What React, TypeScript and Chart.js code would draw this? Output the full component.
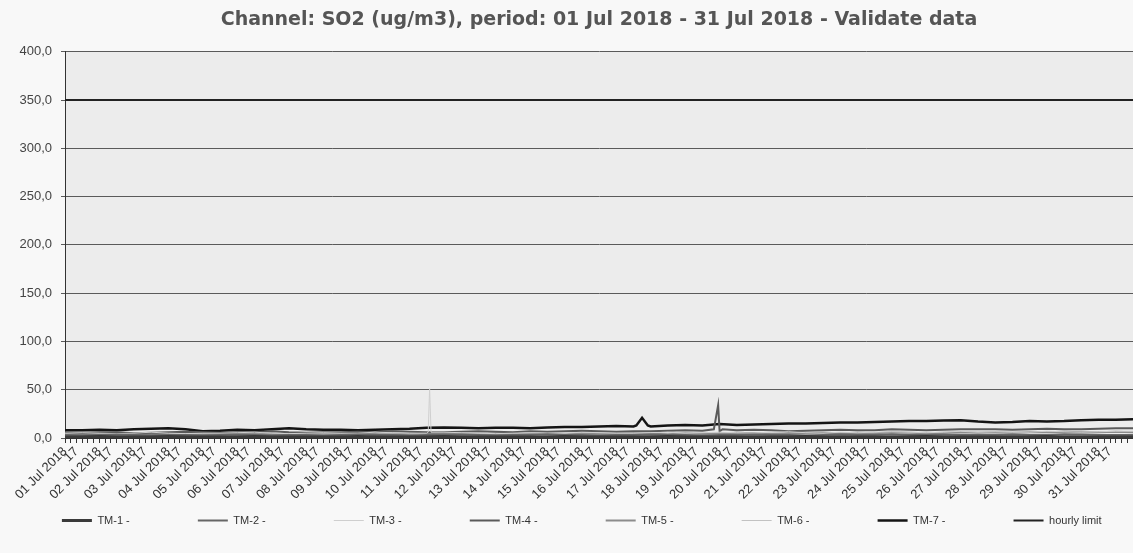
import React, { useEffect, useRef } from 'react';
import { Chart, registerables } from 'chart.js';

Chart.register(...registerables);

const TITLE = 'Channel: SO2 (ug/m3), period: 01 Jul 2018 - 31 Jul 2018 - Validate data';

const dayLabels = [
  '01 Jul 2018', '02 Jul 2018', '03 Jul 2018', '04 Jul 2018', '05 Jul 2018', '06 Jul 2018',
  '07 Jul 2018', '08 Jul 2018', '09 Jul 2018', '10 Jul 2018', '11 Jul 2018', '12 Jul 2018',
  '13 Jul 2018', '14 Jul 2018', '15 Jul 2018', '16 Jul 2018', '17 Jul 2018', '18 Jul 2018',
  '19 Jul 2018', '20 Jul 2018', '21 Jul 2018', '22 Jul 2018', '23 Jul 2018', '24 Jul 2018',
  '25 Jul 2018', '26 Jul 2018', '27 Jul 2018', '28 Jul 2018', '29 Jul 2018', '30 Jul 2018',
  '31 Jul 2018',
];
const hourLabel = '17';

// sample hours (every 12 h over the month)
const hours = [
  0, 12, 24, 36, 48, 60, 72, 84, 96,
  108, 120, 132, 144, 156, 168, 180, 192, 204,
  216, 228, 240, 252, 264, 276, 288, 300, 312,
  324, 336, 348, 360, 372, 384, 396, 408, 420,
  432, 444, 456, 468, 480, 492, 504, 516, 528,
  540, 552, 564, 576, 588, 600, 612, 624, 636,
  648, 660, 672, 684, 696, 708, 720, 732, 744,
];

const tm1 = [
  1, 1, 1.5, 1, 1, 1, 1.5, 1, 1,
  1, 1, 1.5, 1, 1, 1, 1, 1, 1.5,
  1, 1, 1, 1, 1.5, 1, 1, 1, 1,
  1, 1, 1.5, 1, 1, 1, 1, 1, 1.5,
  1, 1, 1, 1, 1, 1, 1, 1.5, 1,
  1, 1, 1, 1, 1, 1.5, 1, 1, 1,
  1, 1, 1, 1.5, 1, 1, 1, 1, 1,
];
const tm2 = [
  3, 2.5, 3, 3.5, 3, 2.5, 3, 3, 2.5,
  3, 3.5, 3, 2.5, 3, 3, 2, 3, 3.5,
  3, 3, 2.5, 3, 3, 3.5, 3, 2.5, 3,
  3, 4, 3, 3, 2.5, 3, 3, 3.5, 3,
  3, 2.5, 3, 3, 3.5, 3, 3, 2.5, 3,
  3.5, 3, 3, 4, 3, 3, 3.5, 3, 3,
  3, 3.5, 3, 3, 4, 3.5, 3, 3, 3,
];
const tm3 = [
  5, 5.5, 5, 4.5, 5, 6, 5, 4.5, 5,
  5, 5.5, 6, 5, 4.5, 5, 5.5, 5, 5,
  6, 5.5, 5, 5, 6, 5.5, 5, 4.5, 5,
  5.5, 5, 5, 6, 5.5, 5, 5, 5.5, 6,
  5, 5.5, 6, 5.5, 5, 6, 6.5, 5.5, 5,
  6, 5.5, 6, 6.5, 6, 5.5, 6, 7, 6,
  6.5, 6, 6, 7, 6.5, 6, 6.5, 7, 7,
];
const tm4 = [
  6, 5.5, 6, 6, 5, 5.5, 6, 6.5, 6,
  5.5, 6, 6, 7, 6, 5.5, 6, 6, 6.5,
  6, 7, 6.5, 6, 6, 6.5, 7, 6.5, 6,
  7, 6.5, 7, 7.5, 7, 6.5, 7, 7, 7.5,
  8, 7.5, 7, 8, 8.5, 8, 7, 7.5, 8,
  8.5, 8, 8, 9, 8.5, 8, 8.5, 9, 9,
  9, 8.5, 9, 9.5, 9, 9, 9.5, 10, 10,
];
const tm5 = [
  4, 4.5, 4, 3.5, 4, 4, 4.5, 4, 4,
  4, 3.5, 4, 4.5, 4, 4, 3.5, 4, 4.5,
  4, 4, 4.5, 5, 4.5, 4, 4, 4.5, 4,
  4.5, 4, 4, 5, 4.5, 4.5, 5, 4.5, 4,
  5, 4.5, 5, 5.5, 5, 4.5, 5, 5, 5.5,
  5, 5.5, 5, 6, 5.5, 5, 5.5, 6, 5.5,
  6, 5.5, 6, 6, 6.5, 6, 6, 6.5, 6,
];
const tm6 = [
  2, 2.5, 2, 2, 2.5, 2, 2, 1.5, 2,
  2, 2, 2.5, 2, 2, 2.5, 2, 2, 2,
  2.5, 2, 2, 2, 2.5, 3, 2, 2, 2.5,
  2, 2.5, 2, 3, 2.5, 2, 2, 2.5, 2,
  2.5, 2, 3, 2.5, 2, 2.5, 3, 2.5, 2,
  2.5, 3, 2.5, 2, 3, 2.5, 3, 3, 2.5,
  3, 2.5, 3, 3.5, 3, 2.5, 3, 3, 3,
];
const tm7 = [
  8, 8, 8.5, 8, 9, 9.5, 10, 9, 7,
  7.5, 8.5, 8, 9, 10, 9, 8.5, 8.5, 8,
  8.5, 9, 9.5, 10.5, 11, 10.5, 10, 10.5, 10.5,
  10, 11, 11.5, 11.5, 12, 12.5, 12, 12, 13,
  13.5, 13, 14.5, 13.5, 14, 14.5, 15, 15, 15.5,
  16, 16, 16.5, 17, 17.5, 17.5, 18, 18.5, 17,
  16, 16.5, 17.5, 17, 17.5, 18.5, 19, 19, 19.5,
];

// short-lived peaks
const tm3PeakHours = [253, 254, 255];
const tm3PeakValues = [6, 51, 6];
const tm4PeakHours = [452, 455, 458];
const tm4PeakValues = [9, 34, 9];
const tm7PeakHours = [398, 402, 406];
const tm7PeakValues = [13, 21, 13];

const limitHours = [0, 744];
const limitValues = [350, 350];

const seriesNames = ['TM-1 -', 'TM-2 -', 'TM-3 -', 'TM-4 -', 'TM-5 -', 'TM-6 -', 'TM-7 -', 'hourly limit'];

function toPoints(h: number[], v: number[], ph: number[] = [], pv: number[] = []) {
  const pts = h.map((x, i) => ({ x, y: v[i] }));
  ph.forEach((x, i) => pts.push({ x, y: pv[i] }));
  pts.sort((a, b) => a.x - b.x);
  return pts;
}

const FONT = '"Liberation Sans", Arial, sans-serif';

const bgPlugin = {
  id: 'bgPlugin',
  beforeDraw(chart: any) {
    const { ctx, chartArea } = chart;
    ctx.save();
    ctx.fillStyle = '#f8f8f8';
    ctx.fillRect(0, 0, chart.width, chart.height);
    ctx.fillStyle = '#ececec';
    ctx.fillRect(chartArea.left, chartArea.top, chartArea.right - chartArea.left, chartArea.bottom - chartArea.top);
    ctx.restore();
  },
};

export default function App() {
  const ref = useRef<HTMLCanvasElement | null>(null);

  useEffect(() => {
    if (!ref.current) return;
    const mk = (label: string, data: any, color: string, width: number) => ({
      label,
      data,
      borderColor: color,
      backgroundColor: color,
      borderWidth: width,
      pointRadius: 0,
      pointHoverRadius: 0,
      tension: 0,
      fill: false,
    });
    const chart = new Chart(ref.current, {
      type: 'line',
      data: {
        datasets: [
          mk(seriesNames[0], toPoints(hours, tm1), '#3a3a3a', 3),
          mk(seriesNames[1], toPoints(hours, tm2), '#666666', 2),
          mk(seriesNames[2], toPoints(hours, tm3, tm3PeakHours, tm3PeakValues), '#cfcfcf', 1),
          mk(seriesNames[3], toPoints(hours, tm4, tm4PeakHours, tm4PeakValues), '#5a5a5a', 2),
          mk(seriesNames[4], toPoints(hours, tm5), '#8c8c8c', 2),
          mk(seriesNames[5], toPoints(hours, tm6), '#c2c2c2', 1),
          mk(seriesNames[6], toPoints(hours, tm7, tm7PeakHours, tm7PeakValues), '#141414', 2.5),
          mk(seriesNames[7], toPoints(limitHours, limitValues), '#222222', 2),
        ],
      },
      options: {
        animation: false,
        responsive: true,
        maintainAspectRatio: false,
        layout: { padding: { top: 0, right: 0, bottom: 17, left: 0 } },
        plugins: {
          tooltip: { enabled: false },
          title: {
            display: true,
            text: TITLE,
            fullSize: false,
            color: '#555555',
            font: { family: '"DejaVu Sans", Verdana, sans-serif', size: 19, weight: 'bold' },
            padding: { top: 9, bottom: 20 },
          },
          legend: {
            position: 'bottom',
            align: 'end',
            labels: {
              usePointStyle: true,
              pointStyle: 'line',
              pointStyleWidth: 30,
              padding: 10,
              color: '#333333',
              font: { family: FONT, size: 11 },
              generateLabels: (c: any) => {
                const items = (Chart.defaults.plugins.legend.labels as any).generateLabels(c);
                const ctx = c.ctx;
                ctx.save();
                ctx.font = '11px ' + FONT;
                items.forEach((it: any, i: number) => {
                  const target = i < items.length - 1 ? 91.5 : 75.5;
                  let t = it.text;
                  while (ctx.measureText(t + ' ').width <= target) t += ' ';
                  it.text = t;
                });
                ctx.restore();
                return items;
              },
            },
          },
        },
        scales: {
          x: {
            type: 'linear',
            min: 0,
            max: 744,
            afterBuildTicks: (scale: any) => {
              const t: { value: number }[] = [];
              for (let h = 0; h <= 744; h += 4) t.push({ value: h });
              scale.ticks = t;
            },
            afterFit: (scale: any) => {
              scale.height = 67;
              scale.paddingRight = 0;
            },
            grid: {
              display: true,
              drawOnChartArea: false,
              drawTicks: true,
              tickLength: 5,
              color: '#333333',
            },
            border: { display: true, color: '#333333', width: 1 },
            ticks: {
              autoSkip: false,
              maxRotation: 45,
              minRotation: 45,
              padding: 1,
              color: '#333333',
              font: { family: FONT, size: 13 },
              callback: (value: any) => {
                const v = Number(value);
                const d = Math.floor(v / 24);
                const hr = v % 24;
                if (hr === 0 && d < dayLabels.length) return dayLabels[d];
                if (hr === 8 && d < dayLabels.length) return hourLabel;
                return '';
              },
            },
          },
          y: {
            min: 0,
            max: 400,
            afterFit: (scale: any) => {
              scale.width = 65;
            },
            grid: { color: '#5a5a5a', lineWidth: 1, tickLength: 4 },
            border: { display: true, color: '#333333', width: 1 },
            ticks: {
              stepSize: 50,
              padding: 9,
              color: '#444444',
              font: { family: FONT, size: 13 },
              callback: (value: any) => Number(value).toFixed(1).replace('.', ','),
            },
          },
        },
      },
      plugins: [bgPlugin],
    } as any);
    return () => chart.destroy();
  }, []);

  return (
    <div style={{ position: 'fixed', left: 0, top: 0, width: '1133px', height: '553px' }}>
      <canvas ref={ref} />
    </div>
  );
}
